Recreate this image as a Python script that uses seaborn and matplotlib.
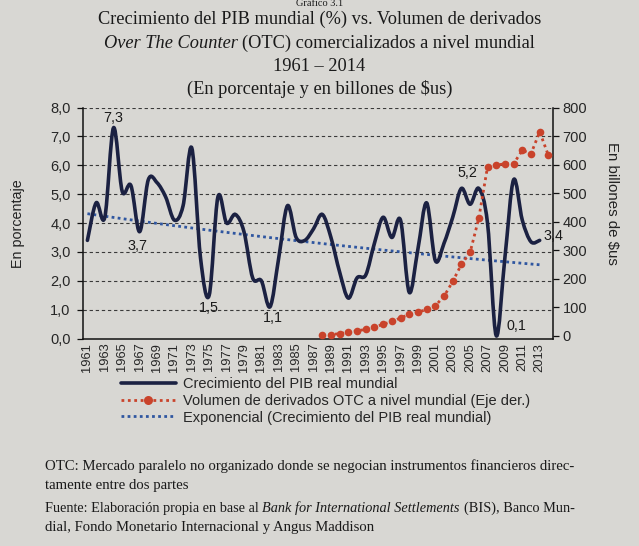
import numpy as np
import pandas as pd
import seaborn as sns
import matplotlib.pyplot as plt
from matplotlib.path import Path
from matplotlib.patches import PathPatch
from matplotlib.lines import Line2D
from matplotlib.ticker import FuncFormatter, MultipleLocator

# Data
YEARS_GDP = list(range(1961, 2014))
GDP = [3.4, 4.7, 4.2, 7.3, 5.1, 5.3, 3.7, 5.5, 5.4, 4.9,
       4.1, 4.6, 6.6, 2.8, 1.5, 4.9, 4.0, 4.3, 3.7, 2.1,
       2.0, 1.1, 2.8, 4.6, 3.5, 3.4, 3.8, 4.3, 3.5, 2.3,
       1.4, 2.1, 2.2, 3.3, 4.2, 3.5, 4.1, 1.6, 3.1, 4.7,
       2.7, 3.3, 4.2, 5.2, 4.65, 5.2, 4.0, 0.1, 2.8, 5.5,
       4.1, 3.35, 3.4]

YEARS_OTC = list(range(1988, 2015))
OTC = [2, 4, 7, 12, 17, 22, 30, 40, 50, 62, 75, 82, 92, 105, 138,
       190, 250, 292, 412, 592, 598, 603, 603, 650, 638, 715, 632]

# data labels placed next to the curve
LABEL_X = [1964.0, 1966.7, 1975.0, 1982.3, 2004.7, 2010.3, 2014.6]
LABEL_Y = [7.65, 3.2, 1.05, 0.72, 5.72, 0.45, 3.55]
LABEL_TEXTS = ["7,3", "3,7", "1,5", "1,1", "5,2", "0,1", "3,4"]

BG = "#d8d7d3"
NAVY = "#1b2142"
RED = "#c9432b"
BLUE = "#2f56a0"
SANS = "Liberation Sans"
SERIF = "Liberation Serif"

sns.set_theme(style="white")
plt.rcParams["font.family"] = [SANS, "DejaVu Sans"]


def smooth_path(xs, ys):
    # Catmull-Rom style bezier, like a spreadsheet "smoothed line"
    xs = np.asarray(xs, float)
    ys = np.asarray(ys, float)
    n = len(xs)
    verts = [(xs[0], ys[0])]
    codes = [Path.MOVETO]
    for i in range(n - 1):
        i0 = max(i - 1, 0)
        i3 = min(i + 2, n - 1)
        c1 = (xs[i] + (xs[i + 1] - xs[i0]) / 6, ys[i] + (ys[i + 1] - ys[i0]) / 6)
        c2 = (xs[i + 1] - (xs[i3] - xs[i]) / 6, ys[i + 1] - (ys[i3] - ys[i]) / 6)
        verts += [c1, c2, (xs[i + 1], ys[i + 1])]
        codes += [Path.CURVE4] * 3
    return Path(verts, codes)


def text_row(fig, y, parts, size, x=0.5, align="center"):
    # parts: list of (text, style); y is a baseline in pixels from the top
    W = fig.get_figwidth() * fig.dpi
    H = fig.get_figheight() * fig.dpi
    r = fig.canvas.get_renderer()
    items = []
    for s, st in parts:
        t = fig.text(0, 1.0 - y / H, s, fontsize=size,
                     family=[SERIF, "DejaVu Serif"], style=st,
                     va="baseline", ha="left", color="#1a1a1a")
        items.append(t)
    gap = size * 0.26 * fig.dpi / 72
    widths = [t.get_window_extent(renderer=r).width for t in items]
    total = sum(widths) + gap * (len(items) - 1)
    start = x * W - (total / 2 if align == "center" else 0)
    for t, w in zip(items, widths):
        t.set_x(start / W)
        start += w + gap


fig = plt.figure(figsize=(6.39, 5.46), dpi=100, facecolor=BG)
ax = fig.add_axes([0.130, 0.380, 0.735, 0.423])
ax.set_facecolor("none")
ax2 = ax.twinx()

df_gdp = pd.DataFrame({"year": YEARS_GDP, "gdp": GDP})
df_otc = pd.DataFrame({"year": YEARS_OTC, "otc": OTC})

# exponential trendline fitted on the GDP series
b, a = np.polyfit(df_gdp["year"] - 1961, np.log(df_gdp["gdp"]), 1)
df_gdp["trend"] = np.exp(a + b * (df_gdp["year"] - 1961))

for v in range(1, 9):
    ax.axhline(v, color="#3a3a3a", lw=0.8, ls=(0, (3, 2.5)), zorder=0)

sns.lineplot(data=df_gdp, x="year", y="trend", ax=ax, color=BLUE, lw=2.0,
             linestyle=(0, (1, 1.2)), legend=False, zorder=2)
ax.add_patch(PathPatch(smooth_path(df_gdp["year"], df_gdp["gdp"]), fill=False,
                       edgecolor=NAVY, lw=2.6, zorder=3, capstyle="round",
                       joinstyle="round"))

sns.lineplot(data=df_otc, x="year", y="otc", ax=ax2, color=RED, lw=2.0,
             linestyle=(0, (1, 1.3)), marker="o", markersize=5.5,
             markeredgewidth=0, legend=False, zorder=4)

ax.set_xlim(1960.5, 2014.5)
ax.set_ylim(0, 8)
ax2.set_ylim(-10, 800)

ax.set_xticks(list(range(1961, 2014, 2)))
ax.set_xticklabels([str(y) for y in range(1961, 2014, 2)], rotation=90,
                   fontsize=9.3)
ax.set_xticks(np.arange(1960.5, 2015, 1), minor=True)
ax.tick_params(axis="x", which="major", length=0, pad=3)
ax.tick_params(axis="x", which="minor", length=4, width=0.9, direction="out",
               color="#111")
ax.yaxis.set_major_locator(MultipleLocator(1))
ax.yaxis.set_major_formatter(FuncFormatter(lambda v, p: f"{v:.1f}".replace(".", ",")))
ax.tick_params(axis="y", length=4, width=0.9, labelsize=10.5, color="#111",
               left=True, pad=5)
ax2.set_yticks(range(0, 801, 100))
ax2.tick_params(axis="y", length=4, width=0.9, labelsize=10.5, color="#111",
                right=True, pad=3)
for a_ in (ax, ax2):
    a_.set_xlabel("")
    a_.set_ylabel("")
    for s in a_.spines.values():
        s.set_color("#111")
        s.set_linewidth(1.1)
    a_.spines["top"].set_visible(False)
ax.spines["right"].set_visible(False)
ax2.spines["left"].set_visible(False)
ax2.spines["bottom"].set_visible(False)

for lx, ly, txt in zip(LABEL_X, LABEL_Y, LABEL_TEXTS):
    ax.text(lx, ly, txt, ha="center", va="center", fontsize=10.3,
            color="#1a1a1a", clip_on=False, zorder=6)

fig.text(0.028, 0.59, "En porcentaje", rotation=90, ha="center", va="center",
         fontsize=10.3, color="#222")
fig.text(0.958, 0.628, "En billones de $us", rotation=-90, ha="center",
         va="center", fontsize=10.8, color="#222")

handles = [
    Line2D([], [], color=NAVY, lw=2.6),
    Line2D([], [], color=RED, lw=2.0, ls=(0, (1, 1.3)), marker="o",
           markersize=6.5, markeredgewidth=0, markevery=[1]),
    Line2D([], [], color=BLUE, lw=2.0, ls=(0, (1, 1.2))),
]
labels = ["Crecimiento del PIB real mundial",
          "Volumen de derivados OTC a nivel mundial (Eje der.)",
          "Exponencial (Crecimiento del PIB real mundial)"]
fig.legend(handles, labels, loc="upper left", bbox_to_anchor=(0.189, 0.310),
           frameon=False, fontsize=10.5, handlelength=3.8, handletextpad=0.45,
           labelspacing=0.2, borderaxespad=0, borderpad=0)

# titles (book typography)
text_row(fig, 6.5, [("Gráfico 3.1", "normal")], 7.5)
text_row(fig, 24, [("Crecimiento del PIB mundial (%) vs. Volumen de derivados", "normal")], 13.2)
text_row(fig, 48, [("Over The Counter", "italic"),
                   ("(OTC) comercializados a nivel mundial", "normal")], 13.2)
text_row(fig, 71, [("1961 – 2014", "normal")], 13.2)
text_row(fig, 94, [("(En porcentaje y en billones de $us)", "normal")], 13.2)

# footnotes
fx = 45 / 639
text_row(fig, 470, [("OTC: Mercado paralelo no organizado donde se negocian instrumentos financieros direc-", "normal")], 10.6, x=fx, align="left")
text_row(fig, 489, [("tamente entre dos partes", "normal")], 10.6, x=fx, align="left")
text_row(fig, 512, [("Fuente: Elaboración propia en base al", "normal"),
                    ("Bank for International Settlements", "italic"),
                    ("(BIS), Banco Mun-", "normal")], 10.3, x=fx, align="left")
text_row(fig, 531, [("dial, Fondo Monetario Internacional y Angus Maddison", "normal")], 10.6, x=fx, align="left")

fig.savefig("out.png", dpi=100, facecolor=BG)
